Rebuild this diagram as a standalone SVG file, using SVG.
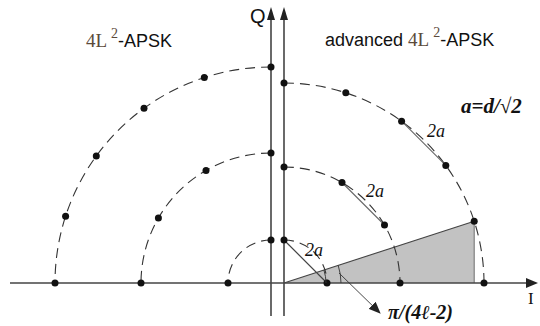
<svg xmlns="http://www.w3.org/2000/svg" width="540" height="326" viewBox="0 0 540 326">
<style>
.arc{fill:none;stroke:#333;stroke-width:1.1;stroke-dasharray:10 6}
.dot{fill:#111}
.axis{stroke:#444;stroke-width:1.6;fill:none}
.chord{stroke:#666;stroke-width:1.1;fill:none}
.sans{font-family:"Liberation Sans",Arial,sans-serif;fill:#111}
.serif{font-family:"Liberation Serif","DejaVu Serif",serif}
.lbl{font-family:"Liberation Serif","DejaVu Serif",serif;font-style:italic;font-size:18px;fill:#111}
</style>
<defs>
<marker id="ah" markerWidth="12" markerHeight="10" refX="11" refY="5" orient="auto" markerUnits="userSpaceOnUse">
<path d="M0,0 L12,5 L0,10 Z" fill="#222"/>
</marker>
</defs>
<rect width="540" height="326" fill="#fff"/>
<g id="sector">
<polygon points="284,283 474.2,221.2 474.2,283" fill="#c2c2c2" stroke="none"/>
<line x1="284" y1="283" x2="474.2" y2="221.2" stroke="#444" stroke-width="1.1"/>
<line x1="474.2" y1="221.2" x2="474.2" y2="283" stroke="#777" stroke-width="1.1"/>
</g>
<g id="axes">
<line class="axis" x1="10" y1="283" x2="530" y2="283"/>
<path d="M538,283 L526,278 L526,288 Z" fill="#222"/>
<line class="axis" x1="271" y1="316" x2="271" y2="18"/>
<path d="M271,7 L267,20 L275,20 Z" fill="#222"/>
<line class="axis" x1="284" y1="316" x2="284" y2="18"/>
<path d="M284,7 L280,20 L288,20 Z" fill="#222"/>
</g>
<g id="left-constellation">
<path class="arc" d="M271,67 A216,216 0 0 0 55,283"/>
<path class="arc" d="M271,153 A130,130 0 0 0 141,283"/>
<path class="arc" d="M271,240 A43,43 0 0 0 228,283"/>
<g class="dot">
<circle cx="271" cy="67" r="3.5"/><circle cx="204.3" cy="77.6" r="3.5"/><circle cx="144" cy="108.3" r="3.5"/><circle cx="96.3" cy="156" r="3.5"/><circle cx="65.6" cy="216.3" r="3.5"/><circle cx="55" cy="283" r="3.5"/>
<circle cx="271" cy="153" r="3.5"/><circle cx="206" cy="170.4" r="3.5"/><circle cx="158.4" cy="218" r="3.5"/><circle cx="141" cy="283" r="3.5"/>
<circle cx="271" cy="240" r="3.5"/><circle cx="228" cy="283" r="3.5"/>
</g>
</g>
<g id="right-constellation">
<path class="arc" d="M284,83 A200,200 0 0 1 484,283"/>
<path class="arc" d="M284,167 A116,116 0 0 1 400,283"/>
<path class="arc" d="M284,240 A43,43 0 0 1 327,283"/>
<line class="chord" x1="401.6" y1="121.2" x2="445.8" y2="165.4"/>
<line class="chord" x1="342" y1="182.5" x2="384.5" y2="225"/>
<line x1="284" y1="240" x2="327" y2="283" stroke="#444" stroke-width="1.2"/>
<g class="dot">
<circle cx="284" cy="83" r="3.5"/><circle cx="345.8" cy="92.8" r="3.5"/><circle cx="401.6" cy="121.2" r="3.5"/><circle cx="445.8" cy="165.4" r="3.5"/><circle cx="474.2" cy="221.2" r="3.5"/><circle cx="484" cy="283" r="3.5"/>
<circle cx="284" cy="167" r="3.5"/><circle cx="342" cy="182.5" r="3.5"/><circle cx="384.5" cy="225" r="3.5"/><circle cx="400" cy="283" r="3.5"/>
<circle cx="284" cy="240" r="3.5"/><circle cx="327" cy="283" r="3.5"/>
</g>
</g>
<g id="angle">
<path d="M326,283 A42,42 0 0 0 323.9,270" fill="none" stroke="#333" stroke-width="0.9"/>
<path d="M341,283 A57,57 0 0 0 338.2,265.4" fill="none" stroke="#333" stroke-width="0.9"/>
<line x1="339" y1="273" x2="380" y2="313" stroke="#333" stroke-width="0.9" marker-end="url(#ah)"/>
</g>
<g id="labels">
<text class="sans" x="250" y="23" font-size="20">Q</text>
<text class="serif" x="528" y="304" font-size="17" fill="#111">I</text>
<text x="86" y="47" font-size="18"><tspan class="serif" fill="#5b4a3a" font-size="19">4L</tspan><tspan class="serif" fill="#5b4a3a" font-size="14" dx="4" dy="-9">2</tspan><tspan class="sans" dy="9">-APSK</tspan></text>
<text x="325" y="46" font-size="18"><tspan class="sans">advanced </tspan><tspan class="serif" fill="#5b4a3a" font-size="19">4L</tspan><tspan class="serif" fill="#5b4a3a" font-size="14" dx="4" dy="-9">2</tspan><tspan class="sans" dy="9">-APSK</tspan></text>
<text class="serif" x="461" y="113" font-size="21" font-weight="bold" font-style="italic" fill="#111">a=d/√2</text>
<text class="lbl" x="427" y="137">2a</text>
<text class="lbl" x="366" y="197">2a</text>
<text class="lbl" x="305" y="256">2a</text>
<text class="serif" x="388" y="319" font-size="20" font-weight="bold" font-style="italic" fill="#111">π/(4ℓ-2)</text>
</g>
</svg>
